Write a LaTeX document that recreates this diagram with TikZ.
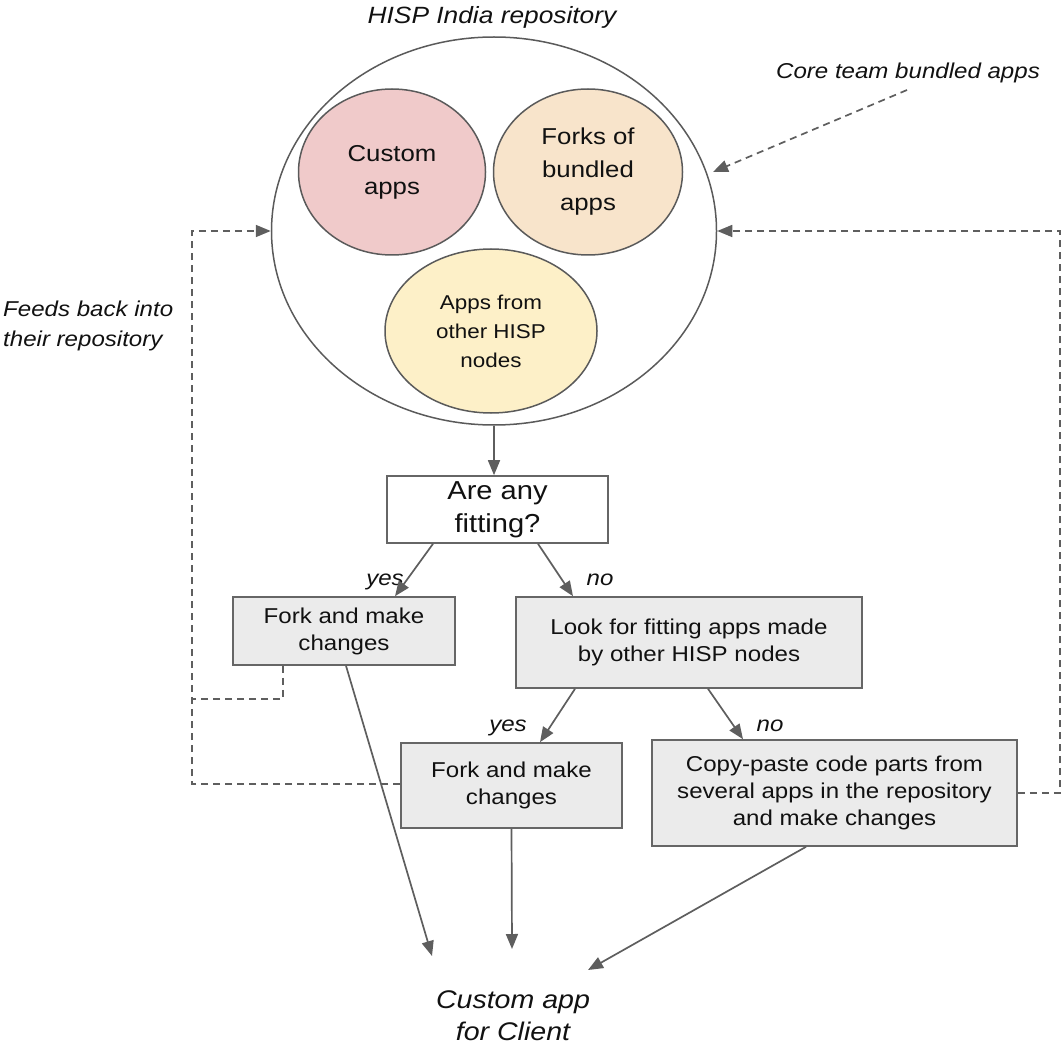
\documentclass[tikz,border=0pt]{standalone}
\usepackage{fontspec}
\setmainfont[FakeStretch=1.12]{Liberation Sans}
\usetikzlibrary{shapes.geometric,arrows.meta}
\definecolor{lineg}{HTML}{5E5E5E}
\definecolor{ellg}{HTML}{5A5A5A}
\definecolor{boxg}{HTML}{666666}
\definecolor{boxfill}{HTML}{EBEBEB}
\definecolor{pinkf}{HTML}{F0CACA}
\definecolor{peachf}{HTML}{F8E4CB}
\definecolor{yellf}{HTML}{FDF0C8}
\definecolor{txt}{HTML}{111111}
\begin{document}
\begin{tikzpicture}[x=1pt,y=-1pt,
  conn/.style={draw=lineg,line width=1.7pt,-{Triangle[length=15pt,width=12pt]}},
  dconn/.style={conn,dash pattern=on 7pt off 5pt},
  dline/.style={draw=lineg,line width=1.7pt,dash pattern=on 7pt off 5pt},
  blob/.style={ellipse,draw=ellg,line width=1.5pt,inner sep=0pt,align=center,text=txt},
  stepbox/.style={rectangle,draw=boxg,fill=boxfill,line width=1.6pt,inner sep=0pt,align=center,text=txt,font=\fontsize{21.5}{27}\selectfont},
  lab/.style={text=txt,font=\itshape\fontsize{21.5}{27}\selectfont,inner sep=0pt}
]
\useasboundingbox (0,0) rectangle (1064,1048);

% title
\node[lab,anchor=base,font=\itshape\fontsize{23.5}{28}\selectfont] (title) at (492,24) {HISP India repository};

% repository
\node[blob,minimum width=445pt,minimum height=388pt] (repo) at (494,231) {};
\node[blob,fill=pinkf,minimum width=187pt,minimum height=166pt,font=\fontsize{23}{33}\selectfont] (custom) at (392,172) {Custom\\apps};
\node[blob,fill=peachf,minimum width=189pt,minimum height=166pt,font=\fontsize{23}{33}\selectfont] (forks) at (588,172) {Forks of\\bundled\\apps};
\node[blob,fill=yellf,minimum width=212pt,minimum height=164pt,font=\fontsize{20}{29}\selectfont] (other) at (491,331) {Apps from\\other HISP\\nodes};

% side labels
\node[lab,anchor=base] (core) at (908,79) {Core team bundled apps};
\node[lab,anchor=west,align=left,font=\itshape\fontsize{21.5}{30}\selectfont] (feeds) at (3,326) {Feeds back into\\their repository};

% decision
\node[stepbox,fill=white,minimum width=221pt,minimum height=67pt,font=\fontsize{26}{33}\selectfont] (q) at (497.5,509.5) {Are any\\fitting?};

% boxes
\node[stepbox,minimum width=222pt,minimum height=68pt] (fork1) at (344,631) {Fork and make\\changes};
\node[stepbox,minimum width=346pt,minimum height=91pt] (look) at (689,642.5) {Look for fitting apps made\\by other HISP nodes};
\node[stepbox,minimum width=221pt,minimum height=85pt] (fork2) at (511.5,785.5) {Fork and make\\changes};
\node[stepbox,minimum width=365pt,minimum height=106pt] (copy) at (834.5,793) {Copy-paste code parts from\\several apps in the repository\\and make changes};

% output
\node[lab,align=center,font=\itshape\fontsize{25.5}{32}\selectfont] (out) at (513,1016) {Custom app\\for Client};
\coordinate (oa) at (432,956);
\coordinate (ob) at (512,949);
\coordinate (oc) at (588,970);

% branch labels
\node[lab,anchor=base] (y1) at (385,585) {yes};
\node[lab,anchor=base] (n1) at (600,585) {no};
\node[lab,anchor=base] (y2) at (508,731) {yes};
\node[lab,anchor=base] (n2) at (770,731) {no};

% solid connectors
\draw[conn] (repo.south) -- (repo.south |- q.north);
\draw[conn] ([xshift=-64.5pt]q.south) -- ([xshift=51pt]fork1.north);
\draw[conn] ([xshift=40.5pt]q.south) -- ([xshift=-116pt]look.north);
\draw[conn] ([xshift=-114pt]look.south) -- ([xshift=28.5pt]fork2.north);
\draw[conn] ([xshift=19pt]look.south) -- ([xshift=-91.5pt]copy.north);
\draw[conn] ([xshift=2pt]fork1.south) -- (oa);
\draw[conn] (fork2.south) -- (ob);
\draw[conn] ([xshift=-28.5pt]copy.south) -- (oc);

% dashed connectors
\coordinate (cs) at (907,90);
\draw[dconn] (cs) -- (713,172);
\coordinate (L1) at (192,784);
\coordinate (L2) at (192,231);
\coordinate (F1d) at (283,699);
\draw[dconn] (fork2.west |- L1) -- (L1) -- (L2) -- (repo.west);
\draw[dline] ([xshift=-61pt]fork1.south) -- (F1d) -- (F1d -| L1);
\coordinate (R1) at (1060,793);
\coordinate (R2) at (1060,231);
\draw[dconn] (copy.east) -- (R1) -- (R2) -- (repo.east);
\end{tikzpicture}
\end{document}
